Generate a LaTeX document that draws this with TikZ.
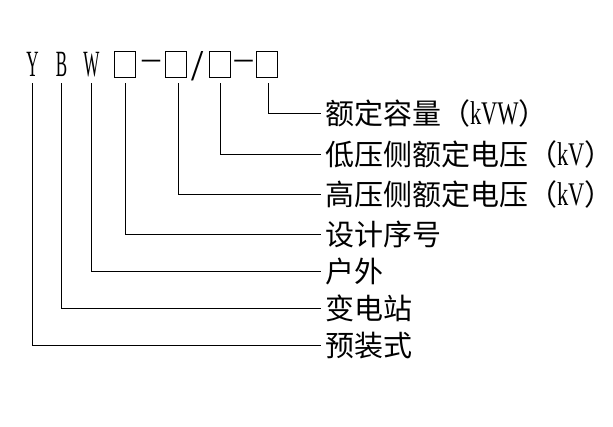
\documentclass[tikz,border=0pt]{standalone}
\usepackage{fontspec}
\setmainfont{Liberation Serif}
\newfontfamily\cjk{Noto Sans CJK SC}
\newfontfamily\latn[FakeStretch=0.46]{Liberation Serif}
\newfontfamily\latl[FakeStretch=0.68]{Liberation Serif}
\newcommand{\kv}[1]{{\latl\fontsize{33}{33}\selectfont #1}}
\tikzset{
  conn/.style={line width=1pt, line cap=rect},
  toplet/.style={anchor=base, inner sep=0pt, outer sep=0pt, font=\latn\fontsize{37}{37}\selectfont},
  boxn/.style={draw, line width=1pt, minimum width=21pt, minimum height=26pt, inner sep=0pt, outer sep=0pt},
  sepn/.style={inner sep=0pt, outer sep=0pt},
  lab/.style={anchor=west, inner xsep=5pt, inner ysep=0pt, outer sep=0pt,
    text height=25.5pt, text depth=3.5pt, font=\cjk\fontsize{29}{31}\selectfont}
}
\begin{document}
\begin{tikzpicture}[x=1pt,y=-1pt]
\useasboundingbox (0,0) rectangle (613,427);
% top row
\node[toplet] (Y) at (32.5,77) {Y};
\node[toplet] (B) at (61.5,77) {B};
\node[toplet] (W) at (91.5,77) {W};
\node[boxn] (b1) at (124.5,65) {};
\node[sepn, font=\fontsize{36}{36}\selectfont] (d1) at (151,65) {–};
\node[sepn, font=\fontsize{36}{36}\selectfont] (d2) at (243.5,65) {–};
\node[boxn] (b2) at (176,65) {};
\node[sepn, font=\fontsize{44}{44}\selectfont] (sl) at (198,66) {/};
\node[boxn] (b3) at (219.5,65) {};
\node[boxn] (b4) at (266.5,65) {};
% labels
\node[lab] (l1) at (320,114) {额定容量（\kv{kVW}）};
\node[lab] (l2) at (320,155) {低压侧额定电压（\kv{kV}）};
\node[lab] (l3) at (320,195) {高压侧额定电压（\kv{kV}）};
\node[lab] (l4) at (320,235) {设计序号};
\node[lab] (l5) at (320,272) {户外};
\node[lab] (l6) at (320,309) {变电站};
\node[lab] (l7) at (320,346) {预装式};
% connectors
\draw[conn] ([xshift=1.5pt,yshift=-6pt]b4.south) |- (l1.west);
\draw[conn] ([xshift=0.5pt,yshift=-6pt]b3.south) |- (l2.west);
\draw[conn] ([xshift=2pt,yshift=-6pt]b2.south) |- (l3.west);
\draw[conn] ([xshift=1pt,yshift=-6pt]b1.south) |- (l4.west);
\draw[conn] ([yshift=-7pt]W.base) |- (l5.west);
\draw[conn] ([yshift=-7pt]B.base) |- (l6.west);
\draw[conn] ([yshift=-7pt]Y.base) |- (l7.west);
\end{tikzpicture}
\end{document}
